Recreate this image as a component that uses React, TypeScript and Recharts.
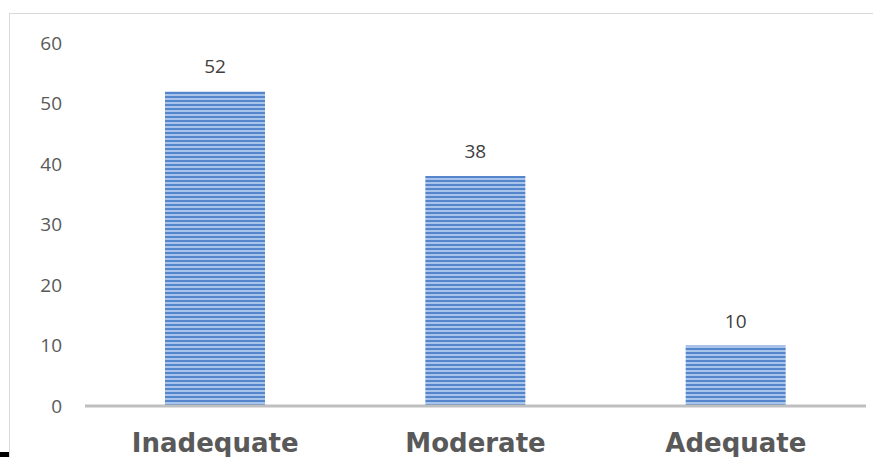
import React from 'react';
import { BarChart, Bar, XAxis, YAxis, LabelList } from 'recharts';

const categories = ['Inadequate', 'Moderate', 'Adequate'];
const values = [52, 38, 10];
const yTicks = [0, 10, 20, 30, 40, 50, 60];

const data = categories.map((name, i) => ({ name, value: values[i] }));

const App: React.FC = () => {
  return (
    <div style={{ position: 'absolute', left: 0, top: 0, width: 873, height: 457, overflow: 'hidden', background: '#fff' }}>
      <div
        style={{
          position: 'absolute',
          left: 9,
          top: 13,
          width: 900,
          height: 500,
          border: '1px solid #d9d9d9',
          boxSizing: 'border-box',
        }}
      />
      <div style={{ position: 'absolute', left: 0, top: 452, width: 9, height: 5, background: '#000' }} />
      <div style={{ position: 'absolute', left: 0, top: 0 }}>
        <BarChart
          width={873}
          height={457}
          data={data}
          margin={{ top: 43, right: 7, left: 0, bottom: 0 }}
          barCategoryGap={80}
        >
          <defs>
            <pattern id="stripes" patternUnits="userSpaceOnUse" width={8} height={4}>
              <rect x={0} y={0} width={8} height={4} fill="#a9c4ea" />
              <rect x={0} y={0} width={8} height={2} fill="#5585cb" />
            </pattern>
          </defs>
          <YAxis
            width={85}
            domain={[0, 60]}
            ticks={yTicks}
            axisLine={false}
            tickLine={false}
            tickMargin={17}
            tick={{ fill: '#595959', fontSize: 19, fontFamily: 'Open Sans' }}
            interval={0}
          />
          <XAxis
            dataKey="name"
            height={51}
            axisLine={{ stroke: '#bfbfbf', strokeWidth: 3 }}
            tickLine={false}
            tickMargin={22}
            tick={{ fill: '#595959', fontSize: 26, fontWeight: 'bold', fontFamily: 'DejaVu Sans' }}
          />
          <Bar dataKey="value" fill="url(#stripes)" isAnimationActive={false}>
            <LabelList
              dataKey="value"
              position="top"
              offset={18}
              style={{ fill: '#404040', fontSize: 19, fontFamily: 'Open Sans' }}
            />
          </Bar>
        </BarChart>
      </div>
    </div>
  );
};

export default App;
